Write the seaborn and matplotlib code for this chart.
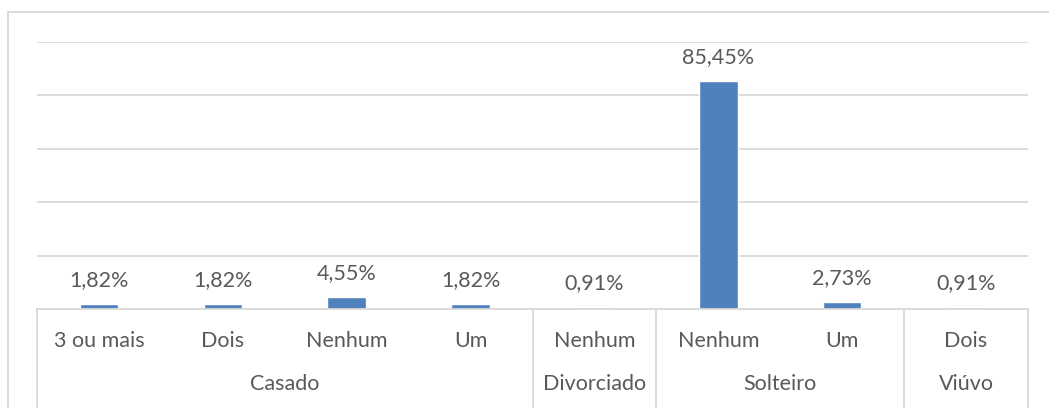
import pandas as pd
import matplotlib.pyplot as plt
import seaborn as sns
from matplotlib.lines import Line2D

# Dados
grupos = ['Casado', 'Casado', 'Casado', 'Casado', 'Divorciado', 'Solteiro', 'Solteiro', 'Viúvo']
filhos = ['3 ou mais', 'Dois', 'Nenhum', 'Um', 'Nenhum', 'Nenhum', 'Um', 'Dois']
percentuais = [0.0182, 0.0182, 0.0455, 0.0182, 0.0091, 0.8545, 0.0273, 0.0091]

df = pd.DataFrame({'grupo': grupos, 'filhos': filhos, 'pct': percentuais})
df['chave'] = df['grupo'] + '|' + df['filhos']

sns.set_style('white')
plt.rcParams['font.family'] = ['Lato', 'DejaVu Sans']

cor_texto = '#595959'
cor_linha = '#D9D9D9'
tam = 15.5

fig = plt.figure(figsize=(10.49, 4.08), dpi=100)
ax = fig.add_axes([37 / 1049, 1 - 309 / 408, (1028 - 37) / 1049, (309 - 42) / 408])

sns.barplot(data=df, x='chave', y='pct', order=list(df['chave']), color='#4F81BD',
            saturation=1, width=0.31, ax=ax)

ax.set_ylim(0, 1.0)
ax.set_xlim(-0.5, len(df) - 0.5)
ax.set_yticks([0, 0.2, 0.4, 0.6, 0.8, 1.0])
ax.yaxis.grid(True, color=cor_linha, linewidth=1.3)
ax.set_axisbelow(True)
for s in ['top', 'right', 'left']:
    ax.spines[s].set_visible(False)
ax.spines['bottom'].set_color(cor_linha)
ax.spines['bottom'].set_linewidth(1.3)
ax.set_yticklabels([])
ax.tick_params(left=False, bottom=False)
ax.set_xticks([])
ax.set_xlabel('')
ax.set_ylabel('')

# Rótulos de dados
for i, v in enumerate(df['pct']):
    txt = f'{v * 100:.2f}%'.replace('.', ',')
    ax.annotate(txt, (i, v), xytext=(0, 17), textcoords='offset points',
                ha='center', va='center', fontsize=tam, color=cor_texto)

# Eixo de categorias em dois níveis
trans = ax.get_xaxis_transform()
alt = (309 - 42)
for i, f in enumerate(df['filhos']):
    ax.text(i, -(341 - 309) / alt, f, transform=trans, ha='center', va='center',
            fontsize=tam, color=cor_texto, clip_on=False)

posicoes = {}
for i, g in enumerate(df['grupo']):
    posicoes.setdefault(g, []).append(i)
for g, idx in posicoes.items():
    ax.text((idx[0] + idx[-1]) / 2, -(384 - 309) / alt, g, transform=trans, ha='center',
            va='center', fontsize=tam, color=cor_texto, clip_on=False)

limites = [-0.5] + [idx[-1] + 0.5 for idx in posicoes.values()]
for x in limites:
    ax.add_line(Line2D([x, x], [0, -(420 - 309) / alt], transform=trans, color=cor_linha,
                       linewidth=1.3, clip_on=False))

# Borda da área do gráfico
fig.add_artist(Line2D([8 / 1049, 8 / 1049], [0, 1 - 12 / 408], transform=fig.transFigure,
                      color=cor_linha, linewidth=1.3))
fig.add_artist(Line2D([8 / 1049, 1], [1 - 12 / 408, 1 - 12 / 408], transform=fig.transFigure,
                      color=cor_linha, linewidth=1.3))

fig.savefig('out.png', dpi=100, facecolor='white')
